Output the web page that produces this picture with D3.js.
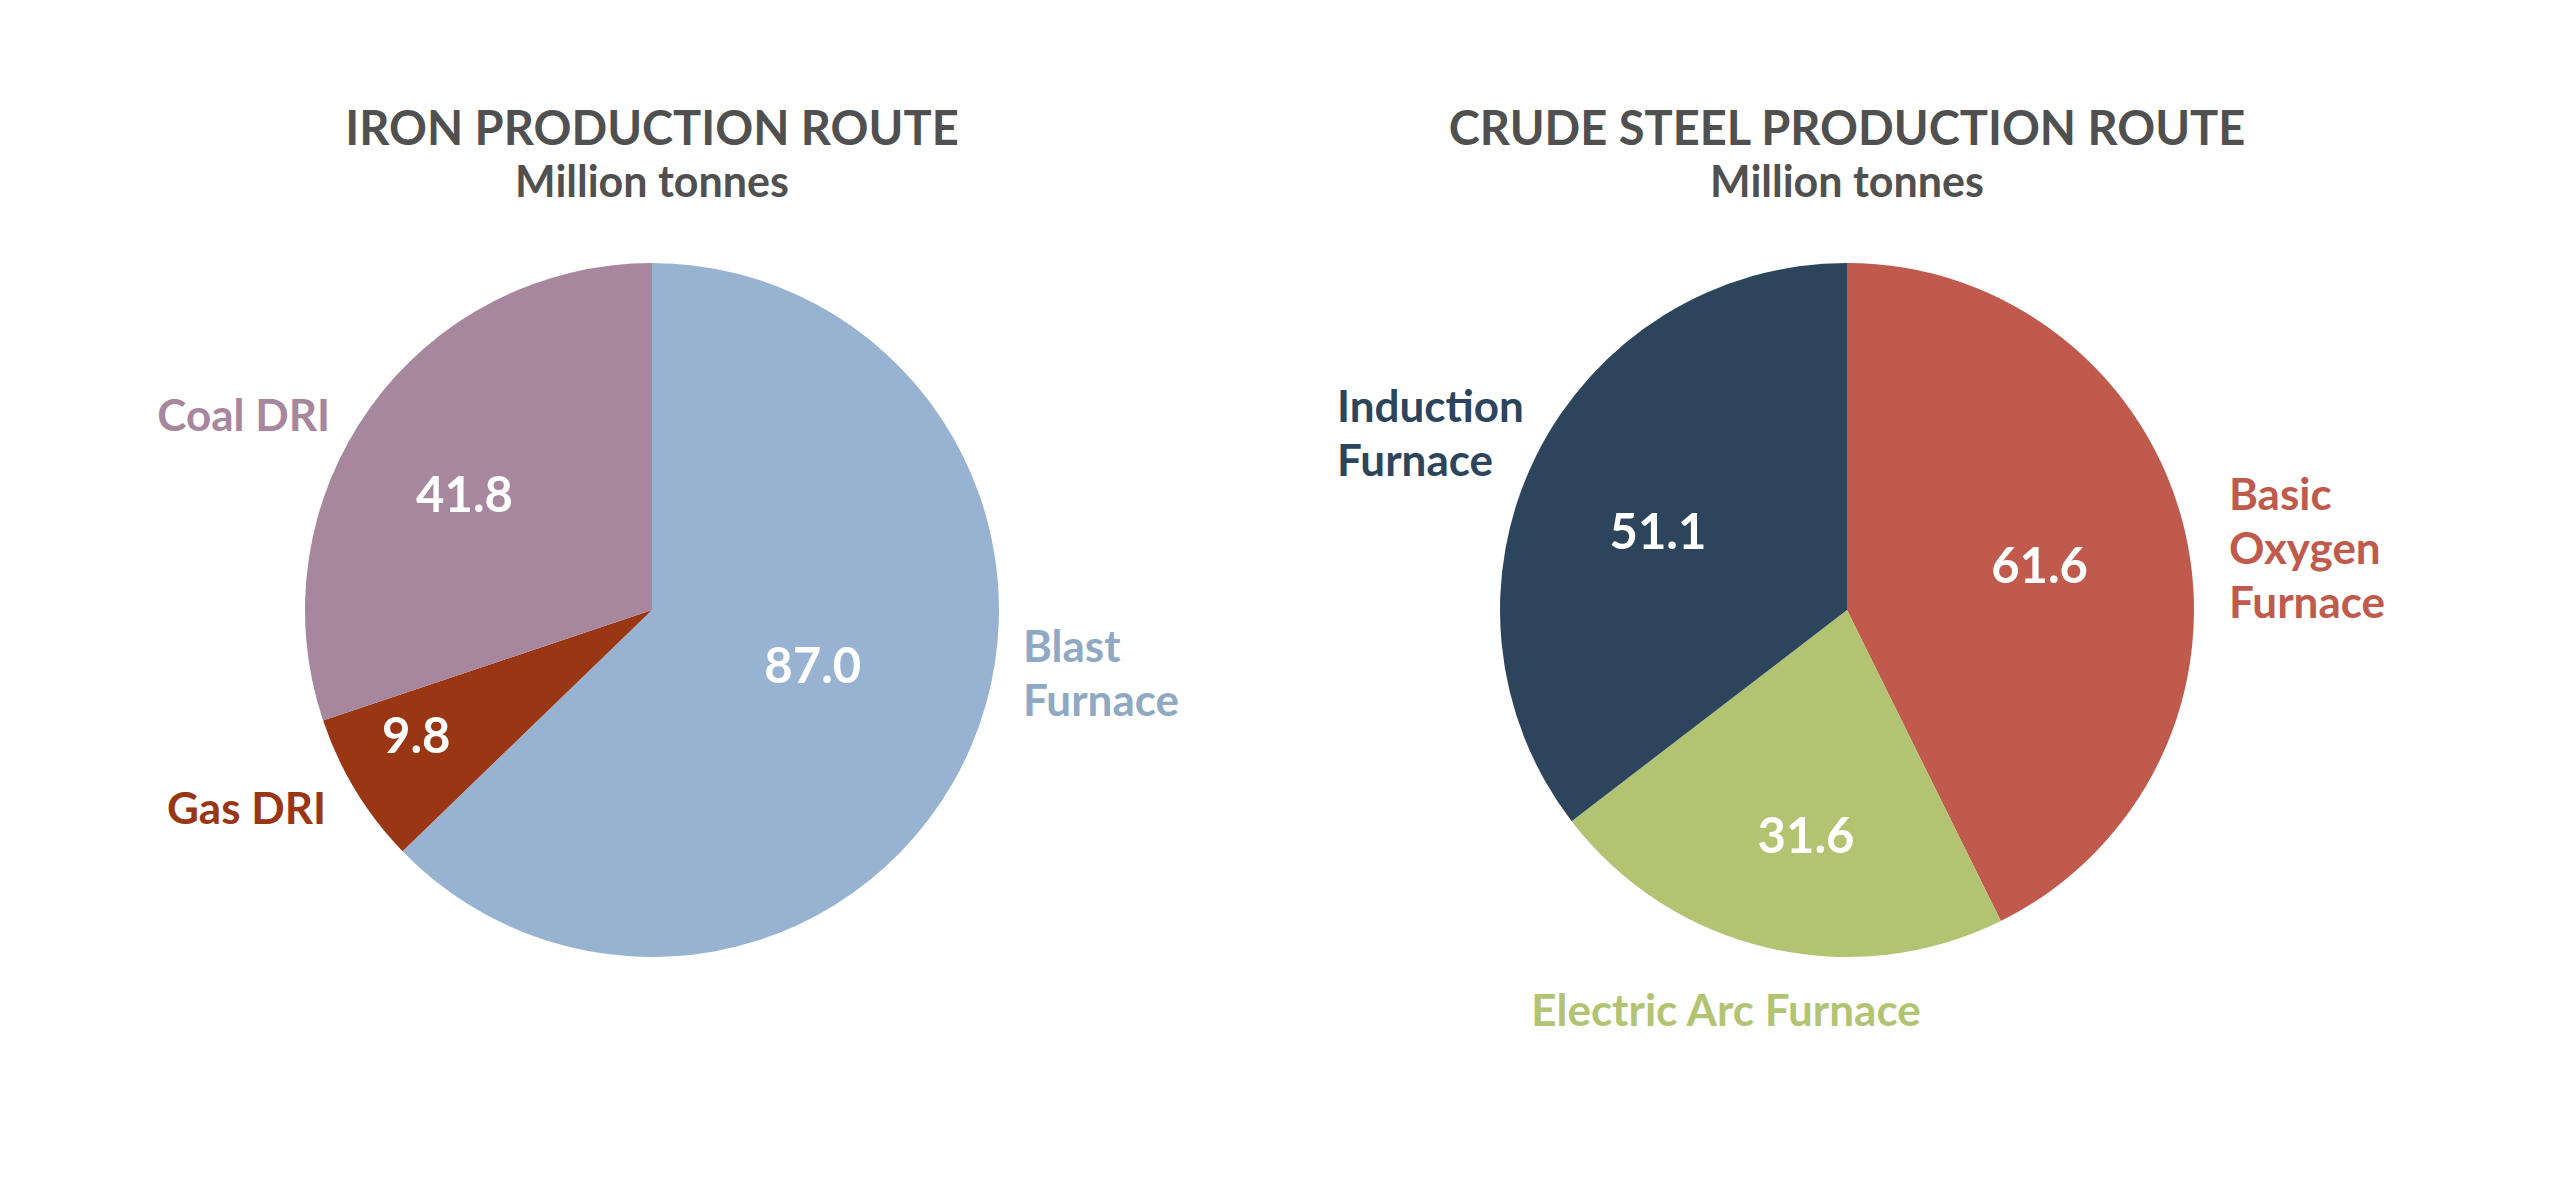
<!DOCTYPE html>
<html>
<head>
<meta charset="utf-8">
<script src="https://cdn.jsdelivr.net/npm/d3@7"></script>
<style>
  html, body { margin: 0; padding: 0; background: #ffffff; }
  svg { display: block; }
  text { font-family: Lato, "Open Sans", sans-serif; font-weight: 700; }
</style>
</head>
<body>
<svg id="chart" width="2550" height="1199"></svg>
<script>
// ---- Data ----
const ironCategories = ["Blast Furnace", "Gas DRI", "Coal DRI"];
const ironValues = [87.0, 9.8, 41.8];
const ironColors = ["#98b3d2", "#993614", "#a6879d"];
const ironLabelColors = ["#8fa9c4", "#993614", "#a6879d"];

const steelCategories = ["Basic Oxygen Furnace", "Electric Arc Furnace", "Induction Furnace"];
const steelValues = [61.6, 31.6, 51.1];
const steelColors = ["#bf5a4c", "#b2c372", "#2c455c"];
const steelLabelColors = ["#bf5a4c", "#b2c372", "#2c455c"];

const titles = ["IRON PRODUCTION ROUTE", "CRUDE STEEL PRODUCTION ROUTE"];
const subtitle = "Million tonnes";

// ---- Layout (not data) ----
const W = 2550, H = 1199;
const R = 347;
const svg = d3.select("#chart");
svg.append("rect").attr("width", W).attr("height", H).attr("fill", "#fff");

const charts = [
  {
    cx: 652, cy: 610, cats: ironCategories, vals: ironValues, colors: ironColors,
    labelColors: ironLabelColors, title: titles[0],
    valueRadius: [0.49, 0.77, 0.635],
    valueAngleShift: [-4, 3.2, -4],
    catLabels: [
      { x: 1023, y: 662, anchor: "start", lines: ["Blast", "Furnace"] },
      { x: 326, y: 824, anchor: "end", lines: ["Gas DRI"] },
      { x: 330, y: 431, anchor: "end", lines: ["Coal DRI"] }
    ]
  },
  {
    cx: 1847, cy: 610, cats: steelCategories, vals: steelValues, colors: steelColors,
    labelColors: steelLabelColors, title: titles[1],
    valueRadius: [0.57, 0.66, 0.59],
    valueAngleShift: [0, -2.8, -3.7],
    catLabels: [
      { x: 2229, y: 510, anchor: "start", lines: ["Basic", "Oxygen", "Furnace"] },
      { x: 1726, y: 1026, anchor: "middle", lines: ["Electric Arc Furnace"] },
      { x: 1337, y: 422, anchor: "start", lines: ["Induction", "Furnace"] }
    ]
  }
];

const pie = d3.pie().sort(null).value(d => d);
const arc = d3.arc().innerRadius(0).outerRadius(R);

charts.forEach(c => {
  const g = svg.append("g").attr("transform", `translate(${c.cx},${c.cy})`);
  const arcs = pie(c.vals);

  g.selectAll("path.slice")
    .data(arcs)
    .enter().append("path")
    .attr("class", "slice")
    .attr("d", arc)
    .attr("fill", (d, i) => c.colors[i]);

  g.selectAll("text.value")
    .data(arcs)
    .enter().append("text")
    .attr("class", "value")
    .attr("transform", (d, i) => {
      const rr = R * c.valueRadius[i];
      const shift = c.valueAngleShift[i] * Math.PI / 180;
      const a = d3.arc().innerRadius(rr).outerRadius(rr);
      const [x, y] = a.centroid({ startAngle: d.startAngle + shift, endAngle: d.endAngle + shift });
      return `translate(${x},${y})`;
    })
    .attr("text-anchor", "middle")
    .attr("dy", "0.36em")
    .attr("fill", "#ffffff")
    .attr("font-size", 49)
    .text(d => d.value.toFixed(1));

  // titles
  svg.append("text")
    .attr("x", c.cx).attr("y", 145)
    .attr("text-anchor", "middle")
    .attr("fill", "#505050")
    .attr("font-size", 47)
    .text(c.title);
  svg.append("text")
    .attr("x", c.cx).attr("y", 197)
    .attr("text-anchor", "middle")
    .attr("fill", "#505050")
    .attr("font-size", 43)
    .text(subtitle);

  // category labels
  c.catLabels.forEach((lab, i) => {
    const t = svg.append("text")
      .attr("x", lab.x).attr("y", lab.y)
      .attr("text-anchor", lab.anchor)
      .attr("fill", c.labelColors[i])
      .attr("font-size", 44);
    lab.lines.forEach((ln, j) => {
      t.append("tspan").attr("x", lab.x).attr("dy", j === 0 ? 0 : 54).text(ln);
    });
  });
});
</script>
</body>
</html>
